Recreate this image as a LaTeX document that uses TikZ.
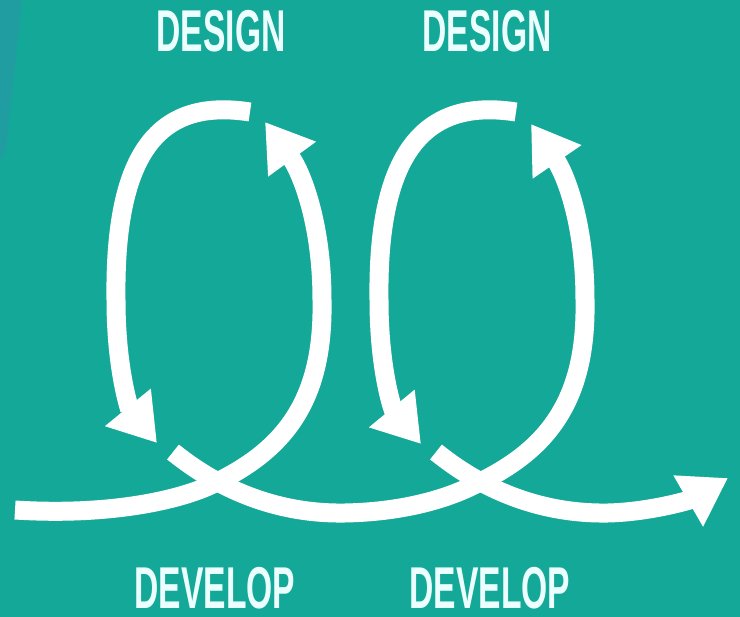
\documentclass[tikz,border=0pt]{standalone}
\usepackage{fontspec}
\newfontfamily\labelfont[FakeStretch=0.57]{Liberation Sans}
\usetikzlibrary{arrows.meta}
\definecolor{bgteal}{RGB}{20,168,152}
\definecolor{bgblue}{RGB}{40,150,168}
\definecolor{lbltext}{RGB}{236,255,255}

\begin{document}
\begin{tikzpicture}
[x=1pt, y=-1pt,
 >={Triangle[length=46pt,width=56pt]},
 flow/.style={draw=white,line width=19pt},
 lbl/.style={text=lbltext,inner sep=0pt,font=\labelfont\bfseries\fontsize{59}{62}\selectfont}]
\fill[bgteal] (0,0) rectangle (740,617);
\useasboundingbox (0,0) rectangle (740,617);
\fill[bgblue,opacity=0.6] (0,0) -- (22,0) -- (6,150) -- (0,160) -- cycle;
% labels
\node[lbl] (design1) at (221,31) {DESIGN};
\node[lbl] (design2) at (487,31) {DESIGN};
\node[lbl] (develop1) at (215,588) {DEVELOP};
\node[lbl] (develop2) at (490,588) {DEVELOP};
% first loop
\draw[flow,->] (15,510) .. controls (110,516) and (180,500) .. (213,484)
  .. controls (285,450) and (324,400) .. (322,300)
  .. controls (322,220) and (300,170) .. (265,122);
\draw[flow,->] (250,112) .. controls (160,98) and (114,150) .. (116,300)
  .. controls (116,370) and (130,410) .. (157,443);
% second loop
\draw[flow,->] (173,452) .. controls (230,498) and (290,514) .. (345,513)
  .. controls (400,512) and (445,500) .. (476,484)
  .. controls (548,450) and (587,400) .. (585,300)
  .. controls (585,220) and (564,172) .. (531,124);
\draw[flow,->] (516,112) .. controls (426,98) and (377,150) .. (379,300)
  .. controls (379,370) and (393,410) .. (421,444);
% way out
\draw[flow,->] (436,452) .. controls (493,498) and (553,514) .. (608,513)
  .. controls (650,512) and (690,500) .. (728,478);
\end{tikzpicture}
\end{document}
